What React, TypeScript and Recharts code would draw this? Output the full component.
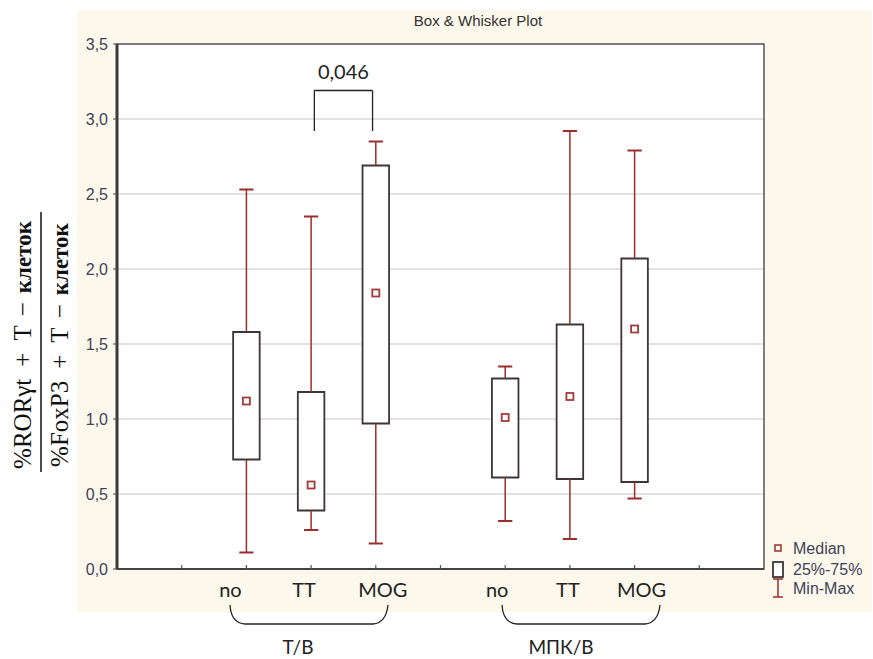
import React from 'react';
import {
  ComposedChart,
  XAxis,
  YAxis,
  CartesianGrid,
  ReferenceArea,
  ReferenceLine,
  Scatter,
} from 'recharts';

// Box & whisker values
const groupLabels = ['no', 'TT', 'MOG', 'no', 'TT', 'MOG'];
const positions = [2, 3, 4, 6, 7, 8];
const minValues = [0.11, 0.26, 0.17, 0.32, 0.2, 0.47];
const q1Values = [0.73, 0.39, 0.97, 0.61, 0.6, 0.58];
const medianValues = [1.12, 0.56, 1.84, 1.01, 1.15, 1.6];
const q3Values = [1.58, 1.18, 2.69, 1.27, 1.63, 2.07];
const maxValues = [2.53, 2.35, 2.85, 1.35, 2.92, 2.79];

const yTicks = [0, 0.5, 1, 1.5, 2, 2.5, 3, 3.5];
const xTicks = [1, 2, 3, 4, 5, 6, 7, 8, 9];

// significance bracket between TT and MOG of the first group
const pValueLabel = '0,046';
const bracketX = [3.05, 3.95];
const bracketY = [2.92, 3.19];

const CREAM = '#fdf8ec';
const BOX_STROKE = '#3e3636';
const WHISKER = '#9b2d2d';
const BOX_HALF = 0.205;
const CAP_HALF = 0.11;
const LABEL_DX = [-16, -7, 7, -8, -2, 7];

const medianData = positions.map((x, i) => ({ x, y: medianValues[i] }));

const MedianMark = (props: any) => {
  const { cx, cy } = props;
  return (
    <rect x={cx - 3.5} y={cy - 3.5} width={7} height={7} fill="#fff" stroke="#a23a3a" strokeWidth={1.8} />
  );
};

const BottomTick = (props: any) => {
  const { x, y, payload } = props;
  const i = positions.indexOf(payload.value);
  return (
    <g>
      <line x1={x} x2={x} y1={y} y2={y - 4} stroke="#555" strokeWidth={1.2} />
      {i >= 0 && (
        <text
          x={x + LABEL_DX[i]}
          y={y + 28}
          textAnchor="middle"
          fill="#222"
          fontSize={20}
          fontFamily="Lato, 'Open Sans', sans-serif"
        >
          {groupLabels[i]}
        </text>
      )}
    </g>
  );
};

const TopTick = (props: any) => {
  const { x, y } = props;
  return <line x1={x} x2={x} y1={y} y2={y + 4} stroke="#555" strokeWidth={1.2} />;
};

const yFormat = (v: number) => v.toFixed(1).replace('.', ',');

// one line of the rotated fraction label
const FractionPart = ({ x, head }: { x: number; head: string }) => (
  <text transform={`translate(${x} 345) rotate(-90)`} textAnchor="middle" fontSize={25}>
    <tspan>{head}</tspan>
    <tspan dx={12}>+</tspan>
    <tspan dx={12}>T</tspan>
    <tspan dx={9}>−</tspan>
    <tspan dx={9} fontWeight="bold" fontSize={23}>клеток</tspan>
  </text>
);

export default function App() {
  return (
    <div style={{ position: 'absolute', left: 0, top: 0, width: 873, height: 659, background: '#fff' }}>
      <div style={{ position: 'absolute', left: 77, top: 10, width: 795, height: 602, background: CREAM }} />
      <div style={{ position: 'absolute', left: 0, top: 0 }}>
        <ComposedChart width={873} height={659} margin={{ top: 44, right: 109, bottom: 60, left: 77 }}>
          <CartesianGrid vertical={false} fill="#fff" stroke="#d9d9d9" strokeWidth={1.5} />
          <XAxis
            type="number"
            dataKey="x"
            domain={[0, 10]}
            ticks={xTicks}
            height={30}
            tickSize={0}
            tickMargin={0}
            axisLine={{ stroke: '#444', strokeWidth: 2 }}
            tick={<BottomTick />}
            interval={0}
          />
          <XAxis
            xAxisId="top"
            orientation="top"
            type="number"
            domain={[0, 10]}
            ticks={xTicks}
            height={0}
            tickSize={0}
            tickMargin={0}
            axisLine={false}
            tick={<TopTick />}
            interval={0}
          />
          <YAxis
            type="number"
            dataKey="y"
            domain={[0, 3.5]}
            ticks={yTicks}
            width={40}
            tickSize={4}
            tickMargin={5}
            tickFormatter={yFormat}
            axisLine={{ stroke: '#3a3a3a', strokeWidth: 3 }}
            tickLine={{ stroke: '#444' }}
            tick={{ fill: '#3e4258', fontSize: 16, fontFamily: 'Arial, "Liberation Sans", sans-serif' }}
          />
          <ReferenceArea x1={0} x2={10} y1={0} y2={3.5} fill="none" stroke="#555" strokeWidth={1.5} />
          {positions.map((x, i) => (
            <ReferenceLine
              key={`lw${i}`}
              segment={[{ x, y: minValues[i] }, { x, y: q1Values[i] }]}
              stroke={WHISKER}
              strokeWidth={1.5}
            />
          ))}
          {positions.map((x, i) => (
            <ReferenceLine
              key={`uw${i}`}
              segment={[{ x, y: q3Values[i] }, { x, y: maxValues[i] }]}
              stroke={WHISKER}
              strokeWidth={1.5}
            />
          ))}
          {positions.map((x, i) => (
            <ReferenceLine
              key={`lc${i}`}
              segment={[{ x: x - CAP_HALF, y: minValues[i] }, { x: x + CAP_HALF, y: minValues[i] }]}
              stroke={WHISKER}
              strokeWidth={2}
            />
          ))}
          {positions.map((x, i) => (
            <ReferenceLine
              key={`uc${i}`}
              segment={[{ x: x - CAP_HALF, y: maxValues[i] }, { x: x + CAP_HALF, y: maxValues[i] }]}
              stroke={WHISKER}
              strokeWidth={2}
            />
          ))}
          {positions.map((x, i) => (
            <ReferenceArea
              key={`box${i}`}
              x1={x - BOX_HALF}
              x2={x + BOX_HALF}
              y1={q1Values[i]}
              y2={q3Values[i]}
              fill="#fff"
              fillOpacity={1}
              stroke={BOX_STROKE}
              strokeWidth={1.8}
            />
          ))}
          <ReferenceLine
            segment={[{ x: bracketX[0], y: bracketY[0] }, { x: bracketX[0], y: bracketY[1] }]}
            stroke="#222"
            strokeWidth={1.3}
            ifOverflow="visible"
          />
          <ReferenceLine
            segment={[{ x: bracketX[0], y: bracketY[1] }, { x: bracketX[1], y: bracketY[1] }]}
            stroke="#222"
            strokeWidth={1.3}
            ifOverflow="visible"
            label={{
              value: pValueLabel,
              position: 'top',
              offset: 12,
              fill: '#222',
              fontSize: 20,
              fontFamily: "Lato, 'Open Sans', sans-serif",
            }}
          />
          <ReferenceLine
            segment={[{ x: bracketX[1], y: bracketY[1] }, { x: bracketX[1], y: bracketY[0] }]}
            stroke="#222"
            strokeWidth={1.3}
            ifOverflow="visible"
          />
          <Scatter data={medianData} shape={<MedianMark />} isAnimationActive={false} />
        </ComposedChart>
      </div>
      <svg
        width={873}
        height={659}
        style={{ position: 'absolute', left: 0, top: 0, pointerEvents: 'none' }}
      >
        <text x={478} y={26} textAnchor="middle" fontSize={15} fill="#333" fontFamily="Arial, 'Liberation Sans', sans-serif">
          Box &amp; Whisker Plot
        </text>

        {/* y-axis label as a fraction */}
        <g fontFamily="'Liberation Serif', 'Times New Roman', serif" fill="#111">
          <FractionPart x={31} head="%RORγt" />
          <line x1={41} x2={41} y1={212} y2={472} stroke="#111" strokeWidth={1.5} />
          <FractionPart x={68} head="%FoxP3" />
        </g>

        {/* legend */}
        <g fontFamily="Arial, 'Liberation Sans', sans-serif" fontSize={16} fill="#3e4258">
          <rect x={775} y={545} width={6} height={6} fill="none" stroke="#a23a3a" strokeWidth={1.6} />
          <text x={793} y={554}>Median</text>
          <rect x={773} y={562} width={10} height={15} fill="#fff" stroke={BOX_STROKE} strokeWidth={1.8} />
          <text x={793} y={575}>25%-75%</text>
          <line x1={778} x2={778} y1={579} y2={597} stroke={WHISKER} strokeWidth={1.5} />
          <line x1={773} x2={783} y1={579} y2={579} stroke={WHISKER} strokeWidth={1.5} />
          <line x1={773} x2={783} y1={597} y2={597} stroke={WHISKER} strokeWidth={1.5} />
          <text x={793} y={594}>Min-Max</text>
        </g>

        {/* group braces */}
        <g fill="none" stroke="#222" strokeWidth={1.3}>
          <path d="M230 605 Q231 623 245 624 L373 624 Q386 623 388 605" />
          <path d="M502 605 Q503 623 517 624 L645 624 Q658 623 660 605" />
        </g>
        <g fontFamily="Lato, 'Open Sans', sans-serif" fontSize={19} fill="#222" textAnchor="middle">
          <text x={298} y={654}>Т/В</text>
          <text x={561} y={654}>МПК/В</text>
        </g>
      </svg>
    </div>
  );
}
